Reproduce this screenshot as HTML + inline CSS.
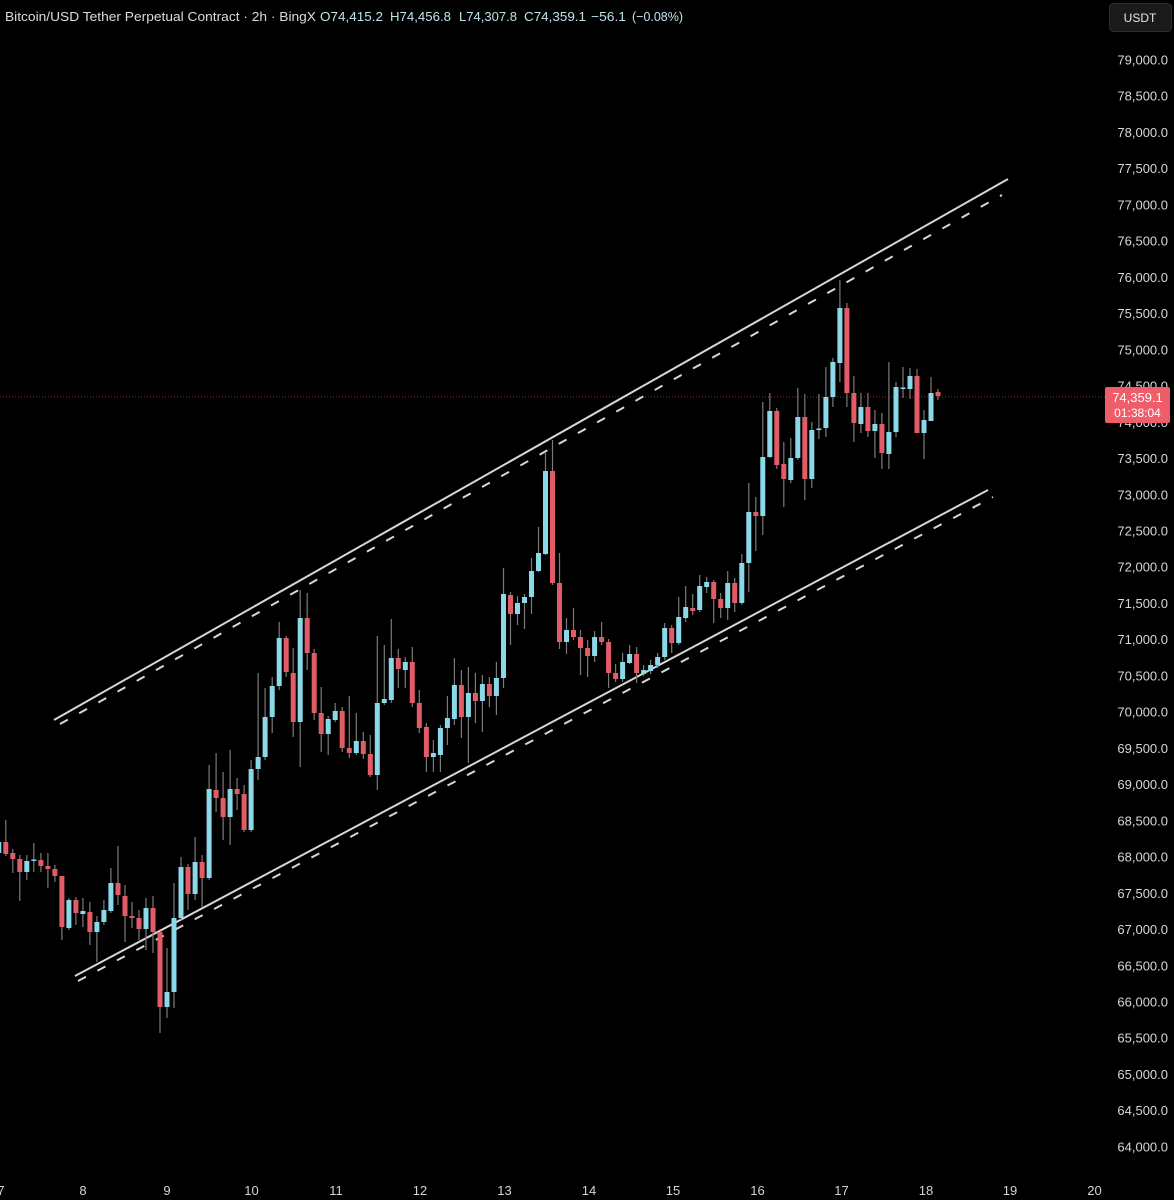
<!DOCTYPE html>
<html><head><meta charset="utf-8"><style>
html,body{margin:0;padding:0;background:#000;}
svg{display:block;}
text{font-family:"Liberation Sans",sans-serif;}
</style></head><body>
<svg width="1174" height="1200" viewBox="0 0 1174 1200" xmlns="http://www.w3.org/2000/svg">
<rect width="1174" height="1200" fill="#000"/>
<!-- current price dotted line -->
<line x1="0" y1="397" x2="1105" y2="397" stroke="#8a2e36" stroke-width="1" stroke-dasharray="1 2"/>
<!-- channel lines -->
<line x1="54" y1="720" x2="1008" y2="179" stroke="#d6d6d6" stroke-width="2"/>
<line x1="60" y1="724" x2="1002" y2="195" stroke="#d6d6d6" stroke-width="2" stroke-dasharray="9 13"/>
<line x1="75" y1="976" x2="988" y2="490" stroke="#d6d6d6" stroke-width="2"/>
<line x1="78" y1="981" x2="993" y2="497" stroke="#d6d6d6" stroke-width="2" stroke-dasharray="9 13"/>
<!-- wicks -->
<path fill="none" stroke="#7a7a7a" stroke-width="1.2" d="M-1.2 836V858M5.8 820V856M12.8 849V873M19.8 855V901M26.8 855V880M33.8 843V872M40.9 853V872M47.9 853V888M54.9 865V882M61.9 876V940M68.9 898V930M75.9 897V925M82.9 898V927M89.9 902V945M96.9 916V962M103.9 900V925M110.9 868V913M118 846V905M125 885V942M132 902V928M139 910V940M146 898V950M153 896V953M160 932V1033M167 948V1018M174 883V1008M181 857V920M188 864V910M195.1 837V900M202.1 855V907M209.1 765V880M216.1 753V812M223.1 772V840M230.1 750V845M237.1 778V810M244.1 785V832M251.1 760V832M258.1 673V780M265.1 688V760M272.2 677V733M279.2 622V690M286.2 636V677M293.2 648V737M300.2 590V767M307.2 593V670M314.2 649V720M321.2 687V752M328.2 716V755M335.2 703V722M342.2 707V752M349.3 696V758M356.3 713V755M363.3 732V759M370.3 735V777M377.3 636V790M384.3 645V705M391.3 619V703M398.3 649V688M405.3 657V688M412.3 647V707M419.3 690V733M426.4 723V772M433.4 740V772M440.4 725V772M447.4 696V745M454.4 658V725M461.4 670V738M468.4 667V763M475.4 673V723M482.4 675V732M489.4 677V707M496.4 662V715M503.5 568V688M510.5 592V645M517.5 596V625M524.5 594V629M531.5 558V614M538.5 527V572M545.5 453V555M552.5 440V585M559.5 553V649M566.5 618V654M573.5 608V640M580.5 630V675M587.6 640V677M594.6 631V662M601.6 622V645M608.6 639V688M615.6 664V682M622.6 653V682M629.6 645V664M636.6 647V683M643.6 665V676M650.6 660V674M657.6 653V668M664.7 623V660M671.7 625V653M678.7 597V645M685.7 586V622M692.7 594V615M699.7 575V612M706.7 577V593M713.7 580V623M720.7 593V618M727.7 571V620M734.7 578V612M741.8 554V605M748.8 483V592M755.8 497V551M762.8 402V535M769.8 393V458M776.8 408V469M783.8 442V507M790.8 438V483M797.8 388V460M804.8 394V500M811.8 422V488M818.9 394V439M825.9 367V437M832.9 358V407M839.9 280V382M846.9 303V407M853.9 376V442M860.9 393V433M867.9 393V437M874.9 410V458M881.9 413V469M888.9 362V469M896 382V437M903 367V398M910 368V399M917 369V433M924 410V459M931 377V421M938 389V400"/>
<!-- bullish bodies -->
<path fill="#8ad8e8" d="M-3.7 842h5V853h-5zM24.3 861h5V872h-5zM31.3 859.5h5V861h-5zM66.4 900h5V928h-5zM80.4 911h5V914h-5zM94.4 922h5V932h-5zM101.4 910h5V922h-5zM108.4 883h5V911h-5zM143.5 908h5V929h-5zM164.5 992h5V1007h-5zM171.5 918h5V992h-5zM178.5 867h5V918h-5zM192.6 862h5V894h-5zM206.6 789h5V878h-5zM227.6 789h5V817h-5zM248.6 769h5V830h-5zM255.6 757h5V769h-5zM262.6 717h5V757h-5zM269.7 686h5V717h-5zM276.7 638h5V686h-5zM297.7 618h5V722h-5zM325.7 719h5V734h-5zM332.7 711h5V720h-5zM353.8 741h5V753h-5zM374.8 703h5V775h-5zM381.8 699h5V703h-5zM388.8 658h5V700h-5zM402.8 662h5V670h-5zM430.9 753h5V757h-5zM437.9 728h5V755h-5zM444.9 718h5V728h-5zM451.9 685h5V719h-5zM465.9 693h5V717h-5zM479.9 684h5V701h-5zM493.9 678h5V696h-5zM501 594h5V678h-5zM515 603h5V614h-5zM522 597h5V603h-5zM529 571h5V597h-5zM536 553h5V571h-5zM543 471h5V554h-5zM564 630h5V642h-5zM592.1 637h5V656h-5zM620.1 662h5V679h-5zM627.1 654h5V663h-5zM641.1 670h5V674h-5zM648.1 665h5V671h-5zM655.1 657h5V665h-5zM662.2 628h5V657h-5zM676.2 617h5V643h-5zM683.2 607h5V618h-5zM697.2 586h5V610h-5zM704.2 582h5V587h-5zM725.2 583h5V608h-5zM739.3 563h5V603h-5zM746.3 512h5V563h-5zM760.3 457h5V516h-5zM767.3 411h5V457h-5zM788.3 458h5V480h-5zM795.3 417h5V458h-5zM809.3 430h5V479h-5zM816.4 428.5h5V430h-5zM823.4 397h5V428h-5zM830.4 362h5V397h-5zM837.4 308h5V363h-5zM858.4 407h5V424h-5zM872.4 424h5V431h-5zM886.4 432h5V454h-5zM893.5 387h5V432h-5zM900.5 387.5h5V389h-5zM907.5 376h5V389h-5zM921.5 420h5V433h-5zM928.5 393h5V421h-5z"/>
<!-- bearish bodies -->
<path fill="#e25c68" d="M3.3 842h5V854h-5zM10.3 853h5V859h-5zM17.3 859h5V872h-5zM38.4 860h5V866h-5zM45.4 866h5V869h-5zM52.4 869h5V876h-5zM59.4 876h5V927h-5zM73.4 900h5V913h-5zM87.4 912h5V932h-5zM115.5 883h5V895h-5zM122.5 896h5V916h-5zM129.5 916h5V918h-5zM136.5 918h5V929h-5zM150.5 908h5V932h-5zM157.5 932h5V1007h-5zM185.5 867h5V894h-5zM199.6 862h5V878h-5zM213.6 790h5V798h-5zM220.6 798h5V817h-5zM234.6 789h5V794h-5zM241.6 794h5V830h-5zM283.7 638h5V672h-5zM290.7 673h5V722h-5zM304.7 618h5V653h-5zM311.7 653h5V713h-5zM318.7 713h5V734h-5zM339.7 711h5V748h-5zM346.8 748h5V753h-5zM360.8 741h5V754h-5zM367.8 754h5V775h-5zM395.8 658h5V669h-5zM409.8 662h5V703h-5zM416.8 703h5V728h-5zM423.9 727h5V757h-5zM458.9 685h5V717h-5zM472.9 693h5V701h-5zM486.9 684h5V696h-5zM508 595h5V614h-5zM550 471h5V583h-5zM557 583h5V642h-5zM571 630h5V637h-5zM578 637h5V648h-5zM585.1 648h5V656h-5zM599.1 637h5V642h-5zM606.1 642h5V673h-5zM613.1 673h5V679h-5zM634.1 654h5V673h-5zM669.2 628h5V643h-5zM690.2 608h5V611h-5zM711.2 582h5V599h-5zM718.2 599h5V608h-5zM732.2 583h5V603h-5zM753.3 512h5V516h-5zM774.3 411h5V465h-5zM781.3 464h5V479h-5zM802.3 417h5V479h-5zM844.4 308h5V393h-5zM851.4 393h5V423h-5zM865.4 407h5V431h-5zM879.4 424h5V453h-5zM914.5 376h5V433h-5zM935.5 392h5V396h-5z"/>
<!-- header -->
<g font-size="13">
<text x="5" y="21" fill="#dcdcdc" textLength="311" lengthAdjust="spacingAndGlyphs">Bitcoin/USD Tether Perpetual Contract · 2h · BingX</text>
<text x="320" y="21" fill="#bfe3ea" textLength="63" lengthAdjust="spacingAndGlyphs">O74,415.2</text>
<text x="390" y="21" fill="#bfe3ea" textLength="61" lengthAdjust="spacingAndGlyphs">H74,456.8</text>
<text x="459" y="21" fill="#bfe3ea" textLength="58" lengthAdjust="spacingAndGlyphs">L74,307.8</text>
<text x="524" y="21" fill="#bfe3ea" textLength="62" lengthAdjust="spacingAndGlyphs">C74,359.1</text>
<text x="591" y="21" fill="#bfe3ea" textLength="35" lengthAdjust="spacingAndGlyphs">−56.1</text>
<text x="632" y="21" fill="#bfe3ea" textLength="51" lengthAdjust="spacingAndGlyphs">(−0.08%)</text>
</g>
<!-- USDT button -->
<rect x="1109.5" y="3.5" width="62" height="28" rx="4" fill="#1a1a1a" stroke="#2c2c2c"/>
<text x="1140" y="22" fill="#e6e6e6" font-size="12" text-anchor="middle">USDT</text>
<!-- y-axis labels -->
<g font-size="13" fill="#d8d8d8" text-anchor="end">
<text x="1168" y="64.5">79,000.0</text>
<text x="1168" y="100.7">78,500.0</text>
<text x="1168" y="136.9">78,000.0</text>
<text x="1168" y="173.2">77,500.0</text>
<text x="1168" y="209.4">77,000.0</text>
<text x="1168" y="245.6">76,500.0</text>
<text x="1168" y="281.9">76,000.0</text>
<text x="1168" y="318.1">75,500.0</text>
<text x="1168" y="354.3">75,000.0</text>
<text x="1168" y="390.6">74,500.0</text>
<text x="1168" y="426.8">74,000.0</text>
<text x="1168" y="463.0">73,500.0</text>
<text x="1168" y="499.3">73,000.0</text>
<text x="1168" y="535.5">72,500.0</text>
<text x="1168" y="571.7">72,000.0</text>
<text x="1168" y="608.0">71,500.0</text>
<text x="1168" y="644.2">71,000.0</text>
<text x="1168" y="680.4">70,500.0</text>
<text x="1168" y="716.6">70,000.0</text>
<text x="1168" y="752.9">69,500.0</text>
<text x="1168" y="789.1">69,000.0</text>
<text x="1168" y="825.3">68,500.0</text>
<text x="1168" y="861.6">68,000.0</text>
<text x="1168" y="897.8">67,500.0</text>
<text x="1168" y="934.0">67,000.0</text>
<text x="1168" y="970.3">66,500.0</text>
<text x="1168" y="1006.5">66,000.0</text>
<text x="1168" y="1042.7">65,500.0</text>
<text x="1168" y="1079.0">65,000.0</text>
<text x="1168" y="1115.2">64,500.0</text>
<text x="1168" y="1151.4">64,000.0</text>
</g>
<!-- price label -->
<rect x="1105" y="387" width="65" height="36" rx="2" fill="#ef5d6b"/>
<text x="1137.5" y="402" fill="#ffffff" font-size="13" text-anchor="middle">74,359.1</text>
<text x="1137.5" y="417" fill="#ffffff" font-size="12" text-anchor="middle">01:38:04</text>
<!-- x-axis labels -->
<g font-size="13" fill="#d4d4d4" text-anchor="middle">
<text x="1" y="1195">7</text>
<text x="83" y="1195">8</text>
<text x="167" y="1195">9</text>
<text x="251.5" y="1195">10</text>
<text x="336" y="1195">11</text>
<text x="420" y="1195">12</text>
<text x="504.5" y="1195">13</text>
<text x="589" y="1195">14</text>
<text x="673" y="1195">15</text>
<text x="757.5" y="1195">16</text>
<text x="841.5" y="1195">17</text>
<text x="926" y="1195">18</text>
<text x="1010" y="1195">19</text>
<text x="1094.5" y="1195">20</text>
</g>
</svg>
</body></html>
